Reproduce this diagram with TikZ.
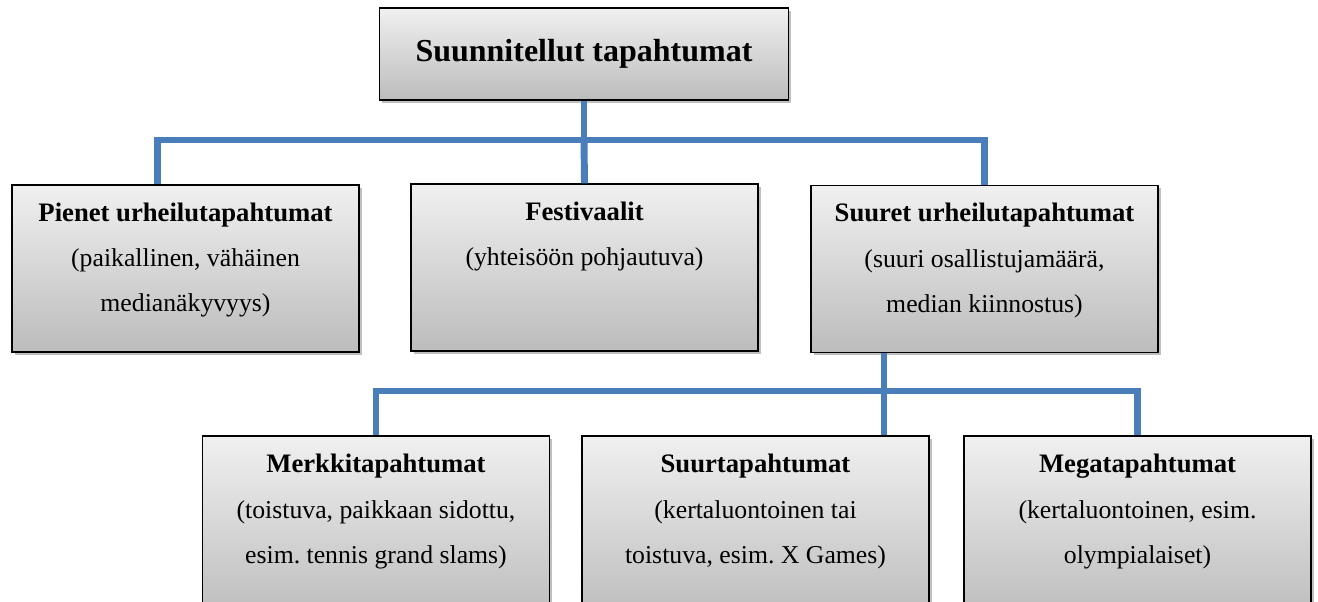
\documentclass[tikz,border=0pt]{standalone}
\usepackage{fontspec}
\setmainfont{Liberation Serif}
\frenchspacing
\usetikzlibrary{positioning,shadows}

\definecolor{boxtop}{RGB}{240,240,240}
\definecolor{boxbot}{RGB}{188,188,188}
\definecolor{linkblue}{RGB}{74,126,187}

\tikzset{
  box/.style={draw=black, line width=1.1pt, top color=boxtop, bottom color=boxbot,
    minimum width=260pt, minimum height=125pt, inner sep=0pt,
    drop shadow={shadow xshift=2pt, shadow yshift=-2pt, fill=black, opacity=0.25}},
  conn/.style={draw=linkblue, line width=5.2pt},
  txt/.style={align=center, inner sep=0pt, font=\fontsize{19.3}{34}\selectfont}
}

\begin{document}
\begin{tikzpicture}[x=0.75pt, y=-0.75pt]
\useasboundingbox (0,0) rectangle (1318,601);
\clip (0,0) rectangle (1318,601);

% Top level
\node[box, minimum width=307pt, minimum height=69pt] (top) at (584,54) {};
\node[txt, font=\fontsize{24}{28}\selectfont\bfseries] (toptxt) at (top.center) {Suunnitellut tapahtumat};

% Second level
\node[box] (pienet) at (185.5,268.5) {};
\node[box] (festival) at (584.5,267.5) {};
\node[box] (suuret) at (984.5,269) {};

\node[txt, below=13.5pt of pienet.north] (pienettxt) {\textbf{\fontsize{20}{34}\selectfont Pienet urheilutapahtumat}\\(paikallinen, vähäinen\\medianäkyvyys)};
\node[txt, below=13.5pt of festival.north] (festivaltxt) {\textbf{\fontsize{20}{34}\selectfont Festivaalit}\\(yhteisöön pohjautuva)};
\node[txt, below=13.5pt of suuret.north] (suurettxt) {\textbf{\fontsize{20}{34}\selectfont Suuret urheilutapahtumat}\\(suuri osallistujamäärä,\\median kiinnostus)};

% Third level (cut off at the bottom)
\node[box, minimum height=138pt] (merkki) at (376,528) {};
\node[box, minimum height=138pt] (suurt) at (755.5,528) {};
\node[box, minimum height=138pt] (mega) at (1137.5,528) {};

\node[txt, below=14pt of merkki.north] (merkkitxt) {\textbf{\fontsize{20}{34}\selectfont Merkkitapahtumat}\\(toistuva, paikkaan sidottu,\\esim. tennis grand slams)};
\node[txt, below=14pt of suurt.north] (suurttxt) {\textbf{\fontsize{20}{34}\selectfont Suurtapahtumat}\\(kertaluontoinen tai\\toistuva, esim. X Games)};
\node[txt, below=14pt of mega.north] (megatxt) {\textbf{\fontsize{20}{34}\selectfont Megatapahtumat}\\(kertaluontoinen, esim.\\olympialaiset)};

% Connectors
\coordinate (j1) at (584,140);
\draw[conn] (top.south) -- (j1);
\draw[conn] (j1) -| ([xshift=-21pt]pienet.north);
\draw[conn] (j1) -- (festival.north);
\draw[conn] (j1) -| (suuret.north);

\coordinate (j2) at (884,391);
\draw[conn] (suuret.south -| j2) -- (suurt.north -| j2);
\draw[conn] (j2) -| (merkki.north);
\draw[conn] (j2) -| (mega.north);
\end{tikzpicture}
\end{document}
